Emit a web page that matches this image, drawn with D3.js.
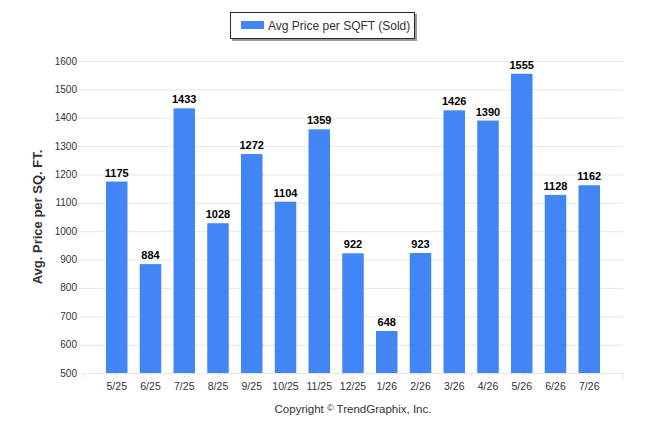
<!DOCTYPE html>
<html>
<head>
<meta charset="utf-8">
<title>Avg Price per SQFT</title>
<script src="https://d3js.org/d3.v7.min.js"></script>
<style>
  body { margin: 0; background: #fff; }
  svg { font-family: "Liberation Sans", Arial, sans-serif; }
</style>
</head>
<body>
<div id="chart"></div>
<script>
var months = ["5/25","6/25","7/25","8/25","9/25","10/25","11/25","12/25","1/26","2/26","3/26","4/26","5/26","6/26","7/26"];
var prices = [1175, 884, 1433, 1028, 1272, 1104, 1359, 922, 648, 923, 1426, 1390, 1555, 1128, 1162];
var yTicks = [500, 600, 700, 800, 900, 1000, 1100, 1200, 1300, 1400, 1500, 1600];
var seriesName = "Avg Price per SQFT (Sold)";
var yTitle = "Avg. Price per SQ. FT.";

// note: "top" is taken by window.top, so plot edges get a prefix
var width = 646, height = 434,
    plotLeft = 83, plotRight = 623, plotTop = 61, plotBottom = 373;

var svg = d3.select("#chart").append("svg")
    .attr("width", width)
    .attr("height", height);

var x = d3.scalePoint()
    .domain(months)
    .range([plotLeft, plotRight])
    .padding(1);

var y = d3.scaleLinear()
    .domain([500, 1600])
    .range([plotBottom, plotTop]);

// grid
svg.append("g").selectAll("line")
    .data(yTicks.slice(1))
    .join("line")
    .attr("x1", plotLeft - 5).attr("x2", plotRight)
    .attr("y1", d => y(d) + 0.5).attr("y2", d => y(d) + 0.5)
    .attr("stroke", "#e6e6e6");

svg.append("g").selectAll("text")
    .data(yTicks)
    .join("text")
    .attr("x", plotLeft - 6)
    .attr("y", d => y(d) + 3.5)
    .attr("text-anchor", "end")
    .attr("font-size", "10px")
    .attr("fill", "#333")
    .text(d => d);

// bars
var bw = 21.5;
svg.append("g").selectAll("rect")
    .data(prices)
    .join("rect")
    .attr("x", (d, i) => x(months[i]) - bw / 2)
    .attr("y", d => y(d))
    .attr("width", bw)
    .attr("height", d => plotBottom - y(d))
    .attr("fill", "#4285f4");

svg.append("g").selectAll("text")
    .data(prices)
    .join("text")
    .attr("x", (d, i) => x(months[i]))
    .attr("y", d => y(d) - 5)
    .attr("text-anchor", "middle")
    .attr("font-size", "11px")
    .attr("font-weight", "bold")
    .attr("fill", "#000")
    .text(d => d);

// x axis
svg.append("line")
    .attr("x1", plotLeft).attr("x2", plotRight)
    .attr("y1", plotBottom + 0.5).attr("y2", plotBottom + 0.5)
    .attr("stroke", "#e6e6e6");

svg.append("g").selectAll("line")
    .data([plotLeft, plotRight].concat(months.map(m => x(m))))
    .join("line")
    .attr("x1", d => Math.round(d) + 0.5).attr("x2", d => Math.round(d) + 0.5)
    .attr("y1", plotBottom).attr("y2", plotBottom + 5)
    .attr("stroke", "#e6e6e6");

svg.append("g").selectAll("text")
    .data(months)
    .join("text")
    .attr("x", d => x(d))
    .attr("y", plotBottom + 17)
    .attr("text-anchor", "middle")
    .attr("font-size", "10.5px")
    .attr("fill", "#333")
    .text(d => d);

// y title
svg.append("text")
    .attr("transform", "translate(42," + (plotTop + plotBottom) / 2 + ") rotate(-90)")
    .attr("text-anchor", "middle")
    .attr("font-size", "13px")
    .attr("font-weight", "bold")
    .attr("fill", "#333")
    .text(yTitle);

// legend
var lg = svg.append("g");
lg.append("rect")
    .attr("x", 232).attr("y", 14)
    .attr("width", 185).attr("height", 27)
    .attr("fill", "#999");
lg.append("rect")
    .attr("x", 230.5).attr("y", 12.5)
    .attr("width", 184).attr("height", 26)
    .attr("fill", "#fff")
    .attr("stroke", "#1c2b4a");
lg.append("rect")
    .attr("x", 241).attr("y", 21)
    .attr("width", 23).attr("height", 8)
    .attr("fill", "#4285f4");
lg.append("text")
    .attr("x", 268).attr("y", 29.5)
    .attr("font-size", "12px")
    .attr("fill", "#333")
    .text(seriesName);

// copyright
var cr = svg.append("text")
    .attr("x", 353).attr("y", 413)
    .attr("text-anchor", "middle")
    .attr("font-size", "11.5px")
    .attr("fill", "#333");
cr.append("tspan").text("Copyright ");
cr.append("tspan").attr("font-size", "9px").attr("dy", -2).text("\u00a9");
cr.append("tspan").attr("dy", 2).text(" TrendGraphix, Inc.");
</script>
</body>
</html>
